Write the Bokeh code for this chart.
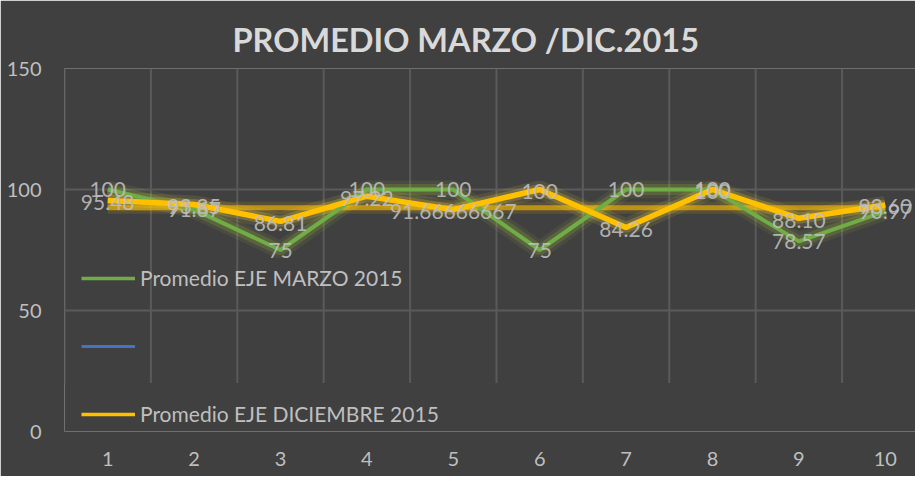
from bokeh.plotting import figure
from bokeh.models import (ColumnDataSource, FixedTicker, Legend, LegendItem, Range1d)
from bokeh.core.properties import value
from bokeh.embed import file_html
from bokeh.resources import INLINE

# ---- data ----
points = [1, 2, 3, 4, 5, 6, 7, 8, 9, 10]
marzo = [100, 91.67, 75, 100, 100, 75, 100, 100, 78.57, 90.97]
marzo_labels = ["100", "91.67", "75", "100", "100", "75", "100", "100", "78.57", "90.97"]
diciembre = [95.48, 93.85, 86.81, 97.22, 91.66666667, 100, 84.26, 100, 88.10, 93.60]
diciembre_labels = ["95.48", "93.85", "86.81", "97.22", "91.66666667", "100", "84.26", "100", "88.10", "93.60"]
promedio = [92.5, 92.5, 92.5, 92.5, 92.5, 92.5, 92.5, 92.5, 92.5, 92.5]
blue_series = [float("nan")] * 10  # empty series (shown only in legend)
y_ticks = [0, 50, 100, 150]
title_text = "PROMEDIO MARZO /DIC.2015"
series_names = ["Promedio EJE MARZO 2015", "\u00a0", "Promedio EJE DICIEMBRE 2015"]

BG = "#404040"
GRID = "#5a5a5a"
TXT = "#bfbfbf"
FONT = "Lato"

p = figure(width=915, height=476, output_backend="svg", toolbar_location=None,
           x_range=Range1d(0.5, 10.35), y_range=Range1d(0, 150),
           min_border_left=64, min_border_right=0, min_border_top=68,
           min_border_bottom=45)
p.background_fill_color = BG
p.border_fill_color = BG
p.outline_line_color = None

p.title.text = title_text
p.title.text_font = FONT
p.title.text_font_size = "32.5px"
p.title.text_font_style = "bold"
p.title.text_color = "#d9d9d9"
p.title.align = "left"
p.title.offset = 168
p.title.standoff = 20

# axes
for ax in (p.xaxis[0], p.yaxis[0]):
    ax.axis_line_color = None
    ax.major_tick_line_color = None
    ax.minor_tick_line_color = None
    ax.major_tick_out = 0
    ax.major_tick_in = 0
    ax.major_label_text_font = FONT
    ax.major_label_text_font_size = "20px"
    ax.major_label_text_color = TXT
p.xaxis.ticker = FixedTicker(ticks=points)
p.yaxis.ticker = FixedTicker(ticks=y_ticks)
p.xaxis.major_label_standoff = 20
p.yaxis.major_label_standoff = 23

# grid
p.xgrid.visible = False
p.ygrid.ticker = FixedTicker(ticks=y_ticks)
p.ygrid.bounds = (50, 150)
p.ygrid.grid_line_color = GRID
p.ygrid.grid_line_width = 2
bounds_x = [c - 0.5 for c in points] + [points[-1] + 0.5]
p.segment(x0=bounds_x, x1=bounds_x, y0=[20] * len(bounds_x), y1=[150] * len(bounds_x),
          line_color=GRID, line_width=2)

src = ColumnDataSource(dict(x=points, m=marzo, ml=marzo_labels, d=diciembre,
                            dl=diciembre_labels, pr=promedio, b=blue_series))

# glow layers
p.line("x", "pr", source=src, line_color="#ffc000", line_width=12, line_alpha=0.12)
p.line("x", "m", source=src, line_color="#b8d83a", line_width=18, line_alpha=0.08)
p.line("x", "m", source=src, line_color="#b8d83a", line_width=11, line_alpha=0.16)
p.line("x", "d", source=src, line_color="#ffe040", line_width=18, line_alpha=0.1)
p.line("x", "d", source=src, line_color="#ffe040", line_width=11, line_alpha=0.2)

r_pr = p.line("x", "pr", source=src, line_color="#ffc000", line_width=5, line_alpha=0.6)
r_m = p.line("x", "m", source=src, line_color="#70ad47", line_width=4)
r_d = p.line("x", "d", source=src, line_color="#ffc000", line_width=5.5)
r_blue = p.line("x", "b", source=src, line_color="#4472c4", line_width=3)

# legend-only swatches with thinner strokes (no data drawn)
lg_m = p.line("x", "b", source=src, line_color="#70ad47", line_width=3.5)
lg_d = p.line("x", "b", source=src, line_color="#ffc000", line_width=3.5)

# data labels
p.text("x", "m", text="ml", source=src, text_align="center", text_baseline="middle",
       text_font=value(FONT), text_font_size="21px", text_color=TXT, text_alpha=0.9)
p.text("x", "d", text="dl", source=src, text_align="center", text_baseline="middle",
       y_offset=2, text_font=value(FONT), text_font_size="21px", text_color=TXT, text_alpha=0.9)

legend = Legend(items=[LegendItem(label=value(series_names[0]), renderers=[lg_m]),
                       LegendItem(label=value(series_names[1]), renderers=[r_blue]),
                       LegendItem(label=value(series_names[2]), renderers=[lg_d])],
                location=(17, 5), orientation="vertical")
legend.background_fill_alpha = 0
legend.border_line_color = None
legend.label_text_font = FONT
legend.label_text_font_size = "21px"
legend.label_text_color = TXT
legend.glyph_width = 54
legend.glyph_height = 20
legend.label_height = 20
legend.spacing = 43
legend.padding = 0
legend.margin = 0
legend.label_standoff = 5
p.add_layout(legend)

open("out.html", "w").write(file_html(p, INLINE))
